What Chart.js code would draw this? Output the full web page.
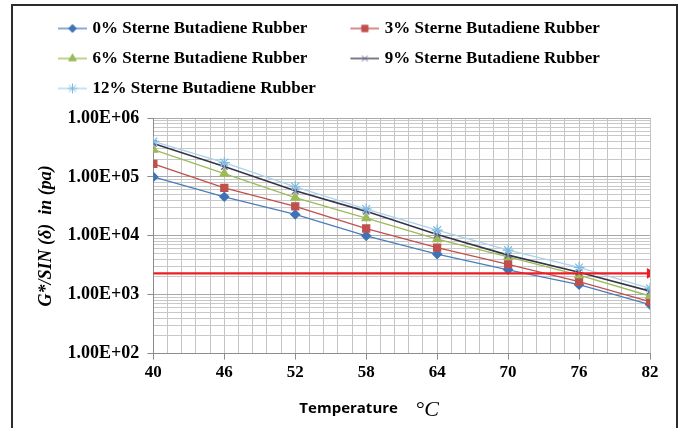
<!DOCTYPE html>
<html>
<head>
<meta charset="utf-8">
<script src="https://cdn.jsdelivr.net/npm/chart.js@4.4.0/dist/chart.umd.min.js"></script>
<style>
  html, body { margin: 0; padding: 0; background: #fff; }
  #wrap { position: relative; width: 683px; height: 428px; overflow: hidden; }
  #frame { position: absolute; left: 11px; top: 4px; width: 667px; height: 440px;
           border: 2px solid #2b2b2b; box-sizing: border-box; pointer-events: none; }
</style>
</head>
<body>
<div id="wrap">
  <canvas id="gChart" width="683" height="428"></canvas>
  <div id="frame"></div>
</div>
<script>
// Temperatures (°C) and G*/sin(delta) values in Pa
const temperatures = [40, 46, 52, 58, 64, 70, 76, 82];
const sbr0  = [1.0e5, 4.6e4, 2.3e4, 1.0e4, 4.9e3, 2.65e3, 1.48e3, 6.8e2];
const sbr3  = [1.66e5, 6.5e4, 3.15e4, 1.33e4, 6.3e3, 3.27e3, 1.66e3, 7.6e2];
const sbr6  = [2.9e5, 1.14e5, 4.45e4, 2.0e4, 8.8e3, 4.4e3, 2.15e3, 9.5e2];
const sbr9  = [3.7e5, 1.5e5, 5.8e4, 2.6e4, 1.05e4, 4.7e3, 2.4e3, 1.15e3];
const sbr12 = [4.0e5, 1.75e5, 6.8e4, 2.85e4, 1.25e4, 5.7e3, 2.9e3, 1.28e3];
const seriesLabels = [
    '0% Sterne Butadiene Rubber',
    '3% Sterne Butadiene Rubber',
    '6% Sterne Butadiene Rubber',
    '9% Sterne Butadiene Rubber',
    '12% Sterne Butadiene Rubber'
];
// horizontal criterion line (red arrow)
const limitX = [40, 82];
const limitValue = 2.3e3;

// axis tick values
const xMin = 40, xMax = 82, xStep = 1.2, xLabelEvery = 5;
const yMin = 1e2, yMax = 1e6;

const SERIF = '"Liberation Serif", "Times New Roman", serif';

function toPoints(values) {
    return values.map((v, i) => ({ x: temperatures[i], y: v }));
}

// small canvas used as legend symbol: line with marker in the middle
function legendIcon(lineColor, markerColor, style, radius) {
    const c = document.createElement('canvas');
    c.width = 62; c.height = 14;
    const g = c.getContext('2d');
    g.strokeStyle = lineColor;
    g.lineWidth = 1.3;
    g.beginPath(); g.moveTo(33, 7); g.lineTo(62, 7); g.stroke();
    g.fillStyle = markerColor;
    g.strokeStyle = markerColor;
    g.lineWidth = 1;
    Chart.helpers.drawPoint(g, { pointStyle: style, radius: radius, borderWidth: 1, rotation: 0 }, 47.5, 7);
    return c;
}

const styles = [
    { line: '#4a7ebb', marker: '#3f73b8', point: 'rectRot', r: 4.5 },
    { line: '#c0504d', marker: '#c0504d', point: 'rect', r: 5 },
    { line: '#9bbb59', marker: '#9bbb59', point: 'triangle', r: 5 },
    { line: '#35354a', marker: '#6e5f96', point: 'crossRot', r: 4.5 },
    { line: '#a9d3ec', marker: '#7fbbe0', point: 'star', r: 5.5 }
];
const allSeries = [sbr0, sbr3, sbr6, sbr9, sbr12];

const datasets = allSeries.map((vals, i) => ({
    label: seriesLabels[i],
    data: toPoints(vals),
    borderColor: styles[i].line,
    backgroundColor: styles[i].marker,
    pointBorderColor: styles[i].marker,
    pointBackgroundColor: styles[i].marker,
    pointStyle: styles[i].point,
    pointRadius: styles[i].r,
    pointBorderWidth: 1.2,
    borderWidth: i === 3 ? 1.6 : 1.3,
    tension: 0,
    order: 10 - i,
    legendIcon: legendIcon(styles[i].line, styles[i].marker, styles[i].point, styles[i].r - 0.5)
}));

datasets.push({
    label: 'limit',
    data: limitX.map(x => ({ x: x, y: limitValue })),
    borderColor: '#ee1c25',
    backgroundColor: '#ee1c25',
    borderWidth: 2.2,
    pointRadius: [0, 4],
    pointStyle: 'triangle',
    rotation: 90,
    order: 0
});

// extra room under the legend
const legendGap = {
    id: 'legendGap',
    beforeInit(chart) {
        const fit = chart.legend.fit;
        chart.legend.fit = function () {
            fit.bind(chart.legend)();
            this.height += 11;
        };
    }
};

// x title with mixed fonts
const xTitlePlugin = {
    id: 'xTitle',
    afterDraw(chart) {
        const { ctx, chartArea } = chart;
        ctx.save();
        ctx.fillStyle = '#000';
        ctx.textBaseline = 'middle';
        ctx.textAlign = 'left';
        ctx.font = 'bold 15px "Open Sans", sans-serif';
        ctx.fillText('Temperature', chartArea.left + 146, chartArea.bottom + 55);
        ctx.font = 'italic 22px ' + SERIF;
        ctx.fillText('°C', chartArea.left + 262, chartArea.bottom + 57);
        ctx.restore();
    }
};

const ctx = document.getElementById('gChart').getContext('2d');
new Chart(ctx, {
    type: 'line',
    data: { datasets: datasets },
    plugins: [legendGap, xTitlePlugin],
    options: {
        responsive: false,
        animation: false,
        layout: { padding: { left: 15, right: 33, top: 7, bottom: 42 } },
        plugins: {
            tooltip: { enabled: false },
            legend: {
                position: 'top',
                align: 'start',
                labels: {
                    usePointStyle: true,
                    pointStyleWidth: 56,
                    padding: 13,
                    color: '#000',
                    font: { family: SERIF, size: 17, weight: 'bold' },
                    filter: item => item.text !== 'limit',
                    sort: (a, b) => a.datasetIndex - b.datasetIndex,
                    generateLabels(chart) {
                        return chart.data.datasets.map((ds, i) => ({
                            text: ds.label,
                            pointStyle: ds.legendIcon,
                            fillStyle: ds.backgroundColor,
                            strokeStyle: ds.borderColor,
                            lineWidth: 0,
                            hidden: false,
                            datasetIndex: i
                        }));
                    }
                }
            }
        },
        scales: {
            x: {
                type: 'linear',
                min: xMin,
                max: xMax,
                afterBuildTicks(scale) {
                    const t = [];
                    for (let i = 0; i <= Math.round((xMax - xMin) / xStep); i++) {
                        t.push({ value: xMin + i * xStep });
                    }
                    scale.ticks = t;
                },
                ticks: {
                    autoSkip: false,
                    maxRotation: 0,
                    padding: 3,
                    color: '#000',
                    font: { family: SERIF, size: 17, weight: 'bold' },
                    callback: (v, i) => (i % xLabelEvery === 0 ? String(Math.round(v)) : '')
                },
                grid: {
                    color: '#c4c4c4',
                    lineWidth: 1,
                    tickLength: 6,
                    tickColor: c => (c.index % xLabelEvery === 0 ? '#8c8c8c' : 'rgba(0,0,0,0)')
                },
                border: { color: '#8c8c8c', width: 1 }
            },
            y: {
                type: 'logarithmic',
                min: yMin,
                max: yMax,
                afterBuildTicks(scale) {
                    const t = [];
                    for (let e = 2; e < 6; e++) {
                        for (let m = 1; m < 10; m++) t.push({ value: m * Math.pow(10, e) });
                    }
                    t.push({ value: yMax });
                    scale.ticks = t;
                },
                ticks: {
                    autoSkip: false,
                    padding: 8,
                    color: '#000',
                    font: { family: SERIF, size: 18, weight: 'bold' },
                    callback: function (v) {
                        const e = Math.log10(v);
                        if (Math.abs(e - Math.round(e)) > 1e-9) return '';
                        return '1.00E+' + String(Math.round(e)).padStart(2, '0');
                    }
                },
                grid: {
                    color: c => {
                        const e = Math.log10(c.tick.value);
                        return Math.abs(e - Math.round(e)) < 1e-9 ? '#a8a8a8' : '#c8c8c8';
                    },
                    lineWidth: 1,
                    tickLength: 6,
                    tickColor: c => {
                        const e = Math.log10(c.tick.value);
                        return Math.abs(e - Math.round(e)) < 1e-9 ? '#8c8c8c' : 'rgba(0,0,0,0)';
                    }
                },
                border: { color: '#8c8c8c', width: 1 },
                title: {
                    display: true,
                    text: 'G*/SIN (δ)  in (pa)',
                    color: '#000',
                    font: { family: SERIF, size: 18, weight: 'bold', style: 'italic' },
                    padding: { top: 21, bottom: 2 }
                }
            }
        }
    }
});
</script>
</body>
</html>
